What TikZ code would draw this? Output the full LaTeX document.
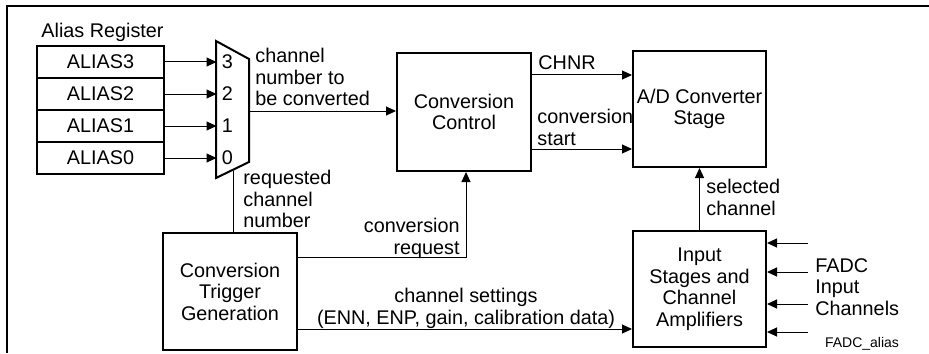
\documentclass[tikz,border=0pt]{standalone}
\usepackage{fontspec}
\setmainfont{Liberation Sans}
\usetikzlibrary{arrows.meta}

\tikzset{
  blk/.style={draw, line width=1pt, inner sep=0.5pt, align=center},
  regbox/.style={draw, line width=1pt, minimum width=63.5pt, minimum height=16pt, inner sep=0pt},
  sig/.style={line width=0.5pt, -{Triangle[length=5pt,width=4.5pt]}},
  wire/.style={line width=0.5pt},
  lbl/.style={inner sep=0pt, align=left},
}

\begin{document}
\begin{tikzpicture}[x=0.5pt, y=-0.5pt, font=\fontsize{9.9pt}{10.75pt}\selectfont]
\useasboundingbox (0,0) rectangle (929,353);
% frame:
\draw[line width=1pt] (929,6) -- (7,6) -- (7,353);
% alias register:
\node[lbl, anchor=north west] (regtitle) at (41,23) {Alias Register};
\foreach \i/\y in {3/62, 2/94, 1/126, 0/158} {
  \node[regbox] (reg\i) at (100.5,\y) {ALIAS\i};
  \coordinate (min\i) at (216.5,\y);
  \node[inner sep=0pt] (num\i) at (227.5,\y) {\i};
  \draw[sig] (reg\i.east) -- (min\i);
}
% multiplexer:
\draw[line width=1pt] (216,41) -- (249,59) -- (249,162) -- (216,178) -- cycle;
\coordinate (mout) at (249,111);
\coordinate (mreq) at (233,171);
% blocks:
\node[blk, minimum width=67pt, minimum height=59pt] (ctrl) at (464,112) {Conversion\\Control};
\node[blk, minimum width=66.5pt, minimum height=58pt] (adc) at (699.5,109) {A/D Converter\\Stage};
\node[blk, minimum width=67pt, minimum height=58.5pt] (trig) at (230,291.5) {Conversion\\Trigger\\Generation};
\node[blk, minimum width=66.5pt, minimum height=58pt] (inp) at (699.5,289) {Input\\Stages and\\Channel\\Amplifiers};
% connectors:
\draw[sig] (mout) -- (mout -| ctrl.west);
\draw[wire] (mreq) -- (mreq |- trig.north);
\draw[sig] ([yshift=18.5pt]ctrl.east) -- ([yshift=18.5pt]ctrl.east -| adc.west);
\draw[sig] ([yshift=-18.5pt]ctrl.east) -- ([yshift=-18.5pt]ctrl.east -| adc.west);
\draw[sig] ([yshift=17.25pt]trig.east) -| ([xshift=1pt]ctrl.south);
\draw[sig] ([yshift=-18.75pt]trig.east) -- ([yshift=-18.75pt]trig.east -| inp.west);
\draw[sig] (inp.north) -- (adc.south);
\foreach \i/\y in {1/243, 2/272, 3/304, 4/332} {
  \coordinate (fin\i) at (808,\y);
  \draw[sig] (fin\i) -- (fin\i -| inp.east);
}
% labels:
\node[lbl, anchor=north west] (lchan) at (255,48) {channel\\number to\\be converted};
\node[lbl, anchor=west] (lchnr) at (538,62.5) {CHNR};
\node[lbl, anchor=north west] (lstart) at (537,109) {conversion\\start};
\node[lbl, anchor=north west] (lreq) at (243,170) {requested\\channel\\number};
\node[lbl, align=right, anchor=north east] (lcreq) at (460,218) {conversion\\request};
\node[lbl, align=center, anchor=north] (lset) at (466,288) {channel settings\\(ENN, ENP, gain, calibration data)};
\node[lbl, anchor=north west] (lsel) at (706,179) {selected\\channel};
\node[lbl, anchor=north west] (lfadc) at (815,258) {FADC\\Input\\Channels};
\node[inner sep=0pt, font=\fontsize{7pt}{8pt}\selectfont] (fig) at (862,344) {FADC\_alias};
\end{tikzpicture}
\end{document}
